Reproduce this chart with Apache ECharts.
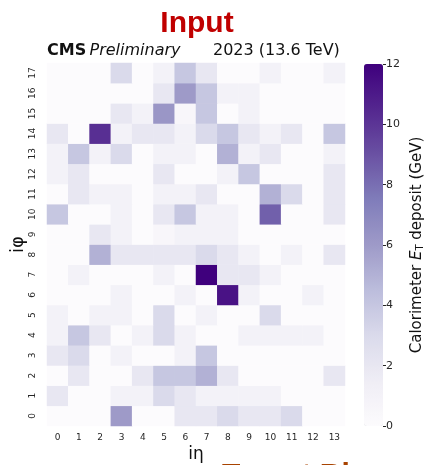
<!DOCTYPE html>
<html lang="en" style="height: 100%">
<head>
    <meta charset="UTF-8">
    <title>Input</title>
    <script type="text/javascript" src="https://cdn.jsdelivr.net/npm/echarts@6/dist/echarts.min.js"></script>
</head>
<body style="height: 100%; margin: 0; background: #fff">
<div id="container" style="width: 428px; height: 465px"></div>
<script type="text/javascript">
    // tick labels
    var etaTicks = ['0', '1', '2', '3', '4', '5', '6', '7', '8', '9', '10', '11', '12', '13'];
    var phiTicks = ['0', '1', '2', '3', '4', '5', '6', '7', '8', '9', '10', '11', '12', '13', '14', '15', '16', '17'];
    var colorTicks = [0, 2, 4, 6, 8, 10, 12];

    // calorimeter ET deposit (GeV) per iphi row, columns are ieta 0..13
    var phi0  = [0, 0, 0, 6, 0, 0, 2, 2, 3, 2, 2, 3, 0, 0];
    var phi1  = [2, 0, 0, 1, 1, 3, 2, 1, 1, 1, 1, 0, 0, 0];
    var phi2  = [0, 2, 0, 0, 2, 4, 4, 5, 2, 0, 0, 0, 0, 2];
    var phi3  = [2, 3, 0, 1, 0, 0, 1, 4, 0, 0, 0, 0, 0, 0];
    var phi4  = [1, 4, 2, 0, 1, 3, 1, 0, 0, 1, 1, 1, 1, 0];
    var phi5  = [1, 0, 1, 1, 0, 3, 0, 1, 0, 0, 3, 0, 0, 0];
    var phi6  = [0, 0, 0, 1, 0, 0, 1, 0, 11.3, 1, 0, 0, 1, 0];
    var phi7  = [0, 1, 0, 0, 0, 1, 0, 12, 2, 2, 1, 0, 0, 0];
    var phi8  = [0, 0, 5, 2, 2, 2, 2, 3, 2, 1, 0, 1, 0, 2];
    var phi9  = [0, 0, 2, 1, 0, 0.5, 1, 1, 1, 0, 0, 0, 0, 0];
    var phi10 = [4, 0, 0, 1, 0, 2, 4, 1, 1, 0, 8.5, 0, 0, 2];
    var phi11 = [0, 2, 1, 1, 0, 1, 1, 2, 0, 0, 5, 3, 0, 2];
    var phi12 = [1, 2, 0, 0, 0, 2, 0, 0, 1, 4, 0, 0, 0, 2];
    var phi13 = [1, 4, 1, 3, 0, 1, 1, 0, 5, 1, 2, 0, 0, 1];
    var phi14 = [2, 0, 10.2, 1, 2, 2, 1, 3, 4, 2, 1, 2, 0, 4];
    var phi15 = [0, 0, 0, 2, 1, 6.2, 0.5, 4, 0, 1, 0, 0, 0, 0];
    var phi16 = [0, 0, 0, 0, 0, 2, 6, 4, 1, 1, 0, 0, 0, 0];
    var phi17 = [0, 0, 0, 3, 0, 1, 4, 2, 0, 0, 1, 0, 0, 1];

    var rows = [phi0, phi1, phi2, phi3, phi4, phi5, phi6, phi7, phi8,
        phi9, phi10, phi11, phi12, phi13, phi14, phi15, phi16, phi17];
    var cells = [];
    for (var j = 0; j < rows.length; j++) {
        for (var i = 0; i < rows[j].length; i++) {
            cells.push([i, j, rows[j][i]]);
        }
    }

    var purples = ['#fcfbfd', '#efedf5', '#dadaeb', '#bcbddc', '#9e9ac8', '#807dba', '#6a51a3', '#54278f', '#3f007d'];
    var tickColor = '#262626';

    var myChart = echarts.init(document.getElementById('container'));
    myChart.setOption({
        animation: false,
        backgroundColor: '#fff',
        graphic: [
            {type: 'text', x: 197, y: 24, style: {text: 'Input', fontSize: 30, fontWeight: 'bold', fontFamily: 'Liberation Sans', fill: '#c00000', align: 'center', verticalAlign: 'middle'}},
            {type: 'text', x: 47, y: 51, style: {
                text: '{b|CMS} {i|Preliminary}', verticalAlign: 'middle', align: 'left',
                rich: {
                    b: {fontSize: 16, fontWeight: 'bold', fontFamily: 'DejaVu Sans', fill: '#111'},
                    i: {fontSize: 16, fontStyle: 'italic', fontFamily: 'DejaVu Sans', fill: '#111'}
                }
            }},
            {type: 'text', x: 213, y: 51, style: {text: '2023 (13.6 TeV)', fontSize: 16, fontFamily: 'DejaVu Sans', fill: '#111', align: 'left', verticalAlign: 'middle'}},
            {type: 'text', x: 222, y: 461, style: {text: 'Target Ring', fontSize: 30, fontWeight: 'bold', fontFamily: 'Liberation Sans', fill: '#a84300', align: 'left', verticalAlign: 'top'}}
        ],
        grid: [
            {left: 47, right: 83, top: 63, bottom: 39, outerBoundsMode: 'none', containLabel: false},
            {left: 364, width: 19, top: 64, height: 362, outerBoundsMode: 'none', containLabel: false}
        ],
        xAxis: [{
            type: 'category', data: etaTicks, gridIndex: 0,
            axisLine: {show: false}, axisTick: {show: false}, splitLine: {show: false},
            axisLabel: {fontSize: 9, color: tickColor, fontFamily: 'DejaVu Sans', margin: 7},
            name: 'i\u03b7', nameLocation: 'middle', nameGap: 20, nameMoveOverlap: false,
            nameTextStyle: {fontSize: 17, color: '#111', fontFamily: 'DejaVu Sans'}
        }, {
            type: 'value', gridIndex: 1, show: false, min: 0, max: 1
        }],
        yAxis: [{
            type: 'category', data: phiTicks, gridIndex: 0,
            axisLine: {show: false}, axisTick: {show: false}, splitLine: {show: false},
            axisLabel: {fontSize: 9, color: tickColor, fontFamily: 'DejaVu Sans', rotate: 90, margin: 10},
            name: 'i\u03c6', nameLocation: 'middle', nameGap: 20, nameRotate: 90, nameMoveOverlap: false,
            nameTextStyle: {fontSize: 18, color: '#111', fontFamily: 'DejaVu Sans'}
        }, {
            type: 'value', gridIndex: 1, position: 'right', min: 0, max: 12, interval: 2,
            axisLine: {show: false, onZero: false}, splitLine: {show: false},
            axisTick: {show: true, length: 3, lineStyle: {color: tickColor}},
            axisLabel: {fontSize: 11, color: tickColor, fontFamily: 'DejaVu Sans', margin: 3,
                showMinLabel: true, showMaxLabel: true,
                formatter: function (v) { return colorTicks.indexOf(v) >= 0 ? String(v) : ''; }},
            name: '{n|Calorimeter }{e|E}{s|T}{n| deposit (GeV)}', nameLocation: 'middle', nameGap: 26, nameRotate: 90,
            nameTextStyle: {
                rich: {
                    n: {fontSize: 15, color: '#111', fontFamily: 'DejaVu Sans'},
                    e: {fontSize: 15, color: '#111', fontFamily: 'DejaVu Sans', fontStyle: 'italic'},
                    s: {fontSize: 10, color: '#111', fontFamily: 'DejaVu Sans', verticalAlign: 'bottom', padding: [6, 0, 0, 0]}
                }
            }
        }],
        visualMap: {
            type: 'continuous', min: 0, max: 12, seriesIndex: 0,
            left: 364, top: 64, itemWidth: 19, itemHeight: 362,
            calculable: false, showLabel: false, text: null, padding: 0,
            inRange: {color: purples}
        },
        series: [{
            type: 'heatmap',
            xAxisIndex: 0, yAxisIndex: 0,
            data: cells,
            itemStyle: {borderWidth: 0},
            emphasis: {disabled: true}
        }]
    });
</script>
</body>
</html>
